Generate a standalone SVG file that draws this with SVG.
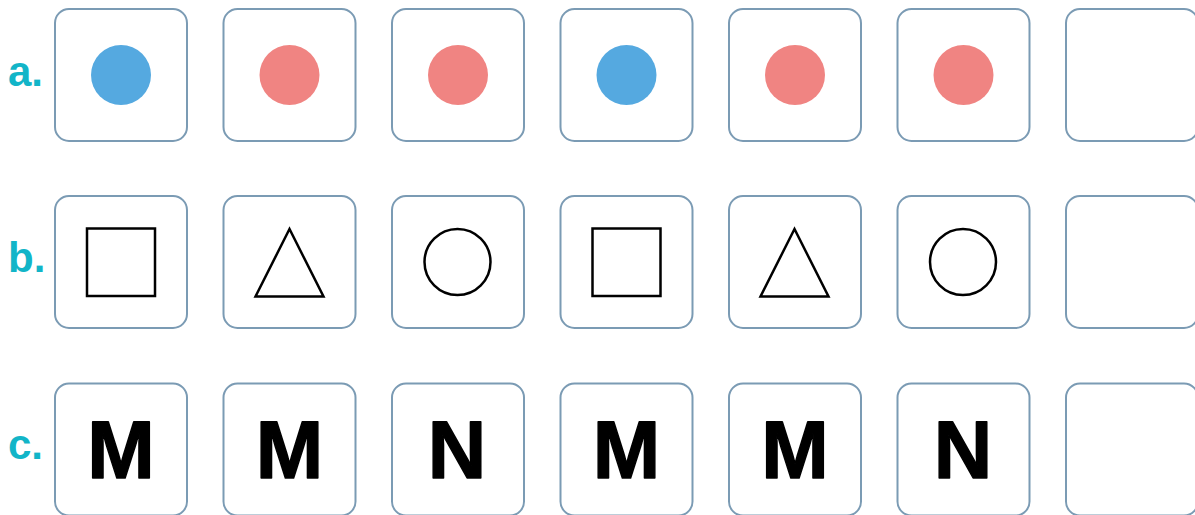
<svg xmlns="http://www.w3.org/2000/svg" width="1195" height="515" viewBox="0 0 1195 515">
<style>
.box{fill:#fff;stroke:#7b9bb4;stroke-width:2}
.lbl{font-family:"Liberation Sans",Arial,sans-serif;font-weight:bold;font-size:42px;fill:#12b5c8}
.blue{fill:#55a9e0}
.red{fill:#f08482}
.sh{fill:none;stroke:#000;stroke-width:2.5}
.let{font-family:"Liberation Sans",Arial,sans-serif;font-weight:bold;font-size:81px;fill:#000;stroke:#000;stroke-width:1.5;stroke-linejoin:round;text-anchor:middle}
</style>
<rect width="1195" height="515" fill="#fff"/>
<g id="labels">
<text class="lbl" x="8" y="86">a.</text>
<text class="lbl" x="8" y="272">b.</text>
<text class="lbl" x="8" y="459">c.</text>
</g>
<g id="row-a">
<g id="a1"><rect class="box" x="55" y="9" width="132" height="132" rx="14"/><circle class="blue" cx="121" cy="75" r="30"/></g>
<g id="a2"><rect class="box" x="223.5" y="9" width="132" height="132" rx="14"/><circle class="red" cx="289.5" cy="75" r="30"/></g>
<g id="a3"><rect class="box" x="392" y="9" width="132" height="132" rx="14"/><circle class="red" cx="458" cy="75" r="30"/></g>
<g id="a4"><rect class="box" x="560.5" y="9" width="132" height="132" rx="14"/><circle class="blue" cx="626.5" cy="75" r="30"/></g>
<g id="a5"><rect class="box" x="729" y="9" width="132" height="132" rx="14"/><circle class="red" cx="795" cy="75" r="30"/></g>
<g id="a6"><rect class="box" x="897.5" y="9" width="132" height="132" rx="14"/><circle class="red" cx="963.5" cy="75" r="30"/></g>
<g id="a7"><rect class="box" x="1066" y="9" width="132" height="132" rx="14"/></g>
</g>
<g id="row-b">
<g id="b1"><rect class="box" x="55" y="196" width="132" height="132" rx="14"/><rect class="sh" x="87" y="228.5" width="68" height="67.5"/></g>
<g id="b2"><rect class="box" x="223.5" y="196" width="132" height="132" rx="14"/><polygon class="sh" points="289.5,229 255.5,296.5 323.5,296.5"/></g>
<g id="b3"><rect class="box" x="392" y="196" width="132" height="132" rx="14"/><circle class="sh" cx="457.5" cy="262" r="33"/></g>
<g id="b4"><rect class="box" x="560.5" y="196" width="132" height="132" rx="14"/><rect class="sh" x="592.5" y="228.5" width="68" height="67.5"/></g>
<g id="b5"><rect class="box" x="729" y="196" width="132" height="132" rx="14"/><polygon class="sh" points="794.5,229 760.5,296.5 828.5,296.5"/></g>
<g id="b6"><rect class="box" x="897.5" y="196" width="132" height="132" rx="14"/><circle class="sh" cx="963" cy="262" r="33"/></g>
<g id="b7"><rect class="box" x="1066" y="196" width="132" height="132" rx="14"/></g>
</g>
<g id="row-c">
<g id="c1"><rect class="box" x="55" y="383.5" width="132" height="132" rx="14"/><text class="let" x="121" y="478">M</text></g>
<g id="c2"><rect class="box" x="223.5" y="383.5" width="132" height="132" rx="14"/><text class="let" x="289.5" y="478">M</text></g>
<g id="c3"><rect class="box" x="392" y="383.5" width="132" height="132" rx="14"/><text class="let" x="457" y="478">N</text></g>
<g id="c4"><rect class="box" x="560.5" y="383.5" width="132" height="132" rx="14"/><text class="let" x="626.5" y="478">M</text></g>
<g id="c5"><rect class="box" x="729" y="383.5" width="132" height="132" rx="14"/><text class="let" x="795" y="478">M</text></g>
<g id="c6"><rect class="box" x="897.5" y="383.5" width="132" height="132" rx="14"/><text class="let" x="963" y="478">N</text></g>
<g id="c7"><rect class="box" x="1066" y="383.5" width="132" height="132" rx="14"/></g>
</g>
<g id="connectors"/>
</svg>
